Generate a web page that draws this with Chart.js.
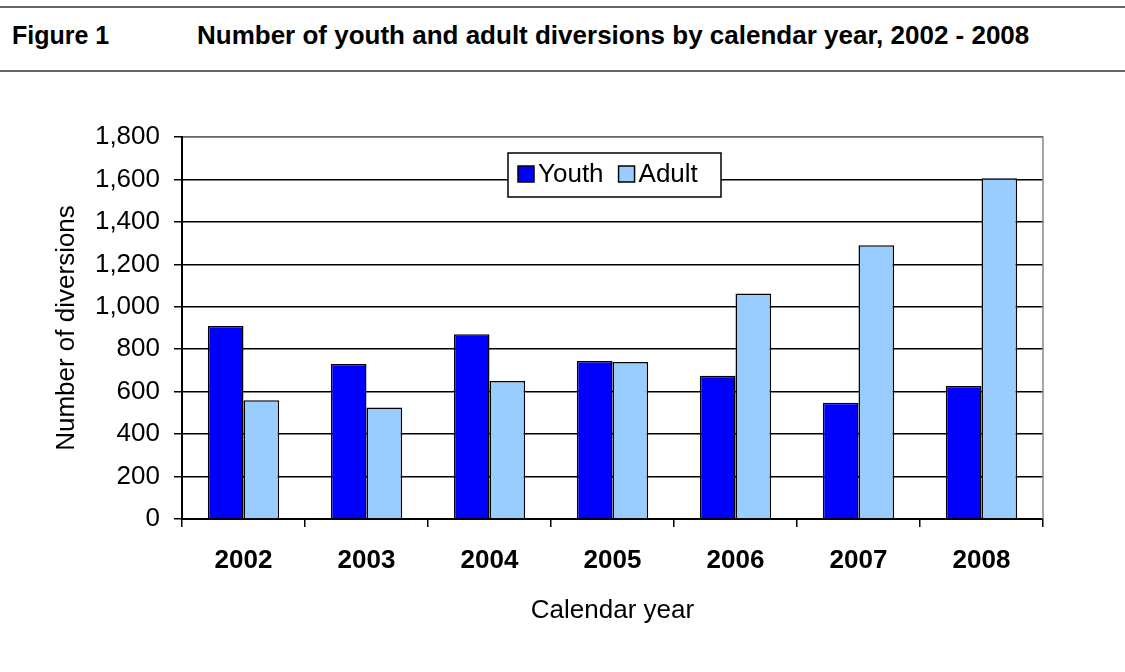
<!DOCTYPE html>
<html>
<head>
<meta charset="utf-8">
<script src="https://cdn.jsdelivr.net/npm/chart.js@4"></script>
<style>
  html, body { margin: 0; padding: 0; background: #fff; }
  #wrap { position: relative; width: 1125px; height: 672px; font-family: "Liberation Sans", Arial, sans-serif; }
  #head { position: absolute; left: 0; top: 6px; width: 1125px; height: 62px; border-top: 2px solid #666; border-bottom: 2px solid #666; }
  #head span { position: absolute; top: 13px; font-weight: bold; font-size: 25px; line-height: 29px; color: #000; white-space: nowrap; }
  canvas { position: absolute; left: 0; top: 0; }
</style>
</head>
<body>
<div id="wrap">
  <div id="head"><span style="left:12px">Figure 1</span><span style="left:197px; font-size:26px">Number of youth and adult diversions by calendar year, 2002 - 2008</span></div>
  <canvas id="c" width="1125" height="672"></canvas>
</div>
<script>
"use strict";

const years = ['2002', '2003', '2004', '2005', '2006', '2007', '2008'];
const youth = [910, 730, 870, 745, 675, 548, 627];
const adult = [560, 525, 650, 740, 1063, 1290, 1606];
const FONT = '"Liberation Sans", Arial, sans-serif';

// legend box inside the plot + grey plot frame on top/right
const boxLegend = {
    id: 'boxLegend',
    afterDraw(chart) {
        const ctx = chart.ctx;
        const a = chart.chartArea;
        ctx.save();
        ctx.strokeStyle = '#888';
        ctx.lineWidth = 1.5;
        ctx.beginPath();
        ctx.moveTo(a.left + 1, a.top);
        ctx.lineTo(a.right, a.top);
        ctx.lineTo(a.right, a.bottom);
        ctx.stroke();

        const x0 = 508, y0 = 153, w = 213, h = 44;
        ctx.fillStyle = '#fff';
        ctx.fillRect(x0, y0, w, h);
        ctx.strokeStyle = '#000';
        ctx.lineWidth = 1.5;
        ctx.strokeRect(x0, y0, w, h);
        ctx.font = '26px ' + FONT;
        ctx.textBaseline = 'middle';
        let x = x0 + 10;
        chart.data.datasets.forEach(ds => {
            ctx.fillStyle = ds.backgroundColor;
            ctx.fillRect(x, y0 + 13, 16, 16);
            ctx.strokeRect(x, y0 + 13, 16, 16);
            ctx.fillStyle = '#000';
            ctx.fillText(ds.label, x + 20, y0 + 22);
            x += 20 + ctx.measureText(ds.label).width + 15;
        });
        ctx.restore();
    }
};

new Chart(document.getElementById('c'), {
    type: 'bar',
    data: {
        labels: years,
        datasets: [
            { label: 'Youth', data: youth, backgroundColor: '#0000FF', borderColor: '#000', borderWidth: 1.5 },
            { label: 'Adult', data: adult, backgroundColor: '#99CCFF', borderColor: '#000', borderWidth: 1.5 }
        ]
    },
    options: {
        responsive: false,
        animation: false,
        layout: { padding: { left: 0, right: 82, top: 137, bottom: 0 } },
        datasets: { bar: { barPercentage: 1, categoryPercentage: 0.58 } },
        plugins: { legend: { display: false }, tooltip: { enabled: false } },
        scales: {
            x: {
                afterFit(s) { s.height = 153; },
                grid: { drawOnChartArea: false, color: '#000', tickLength: 8, lineWidth: 1.5 },
                border: { color: '#000', width: 2 },
                ticks: { color: '#000', padding: 18, font: { family: FONT, size: 26, weight: 'bold' } },
                title: { display: true, text: 'Calendar year', color: '#000', padding: { top: 0, bottom: 46 }, font: { family: FONT, size: 26 } }
            },
            y: {
                min: 0, max: 1800,
                afterFit(s) { s.width = 182; },
                grid: { color: '#000', tickLength: 8, lineWidth: 1.5 },
                border: { color: '#000', width: 2 },
                ticks: {
                    stepSize: 200, color: '#000', padding: 14,
                    font: { family: FONT, size: 26 },
                    callback: v => v.toLocaleString('en-US')
                },
                title: { display: true, text: 'Number of diversions', color: '#000', padding: { top: 51, bottom: 0 }, font: { family: FONT, size: 26 } }
            }
        }
    },
    plugins: [boxLegend]
});
</script>
</body>
</html>
